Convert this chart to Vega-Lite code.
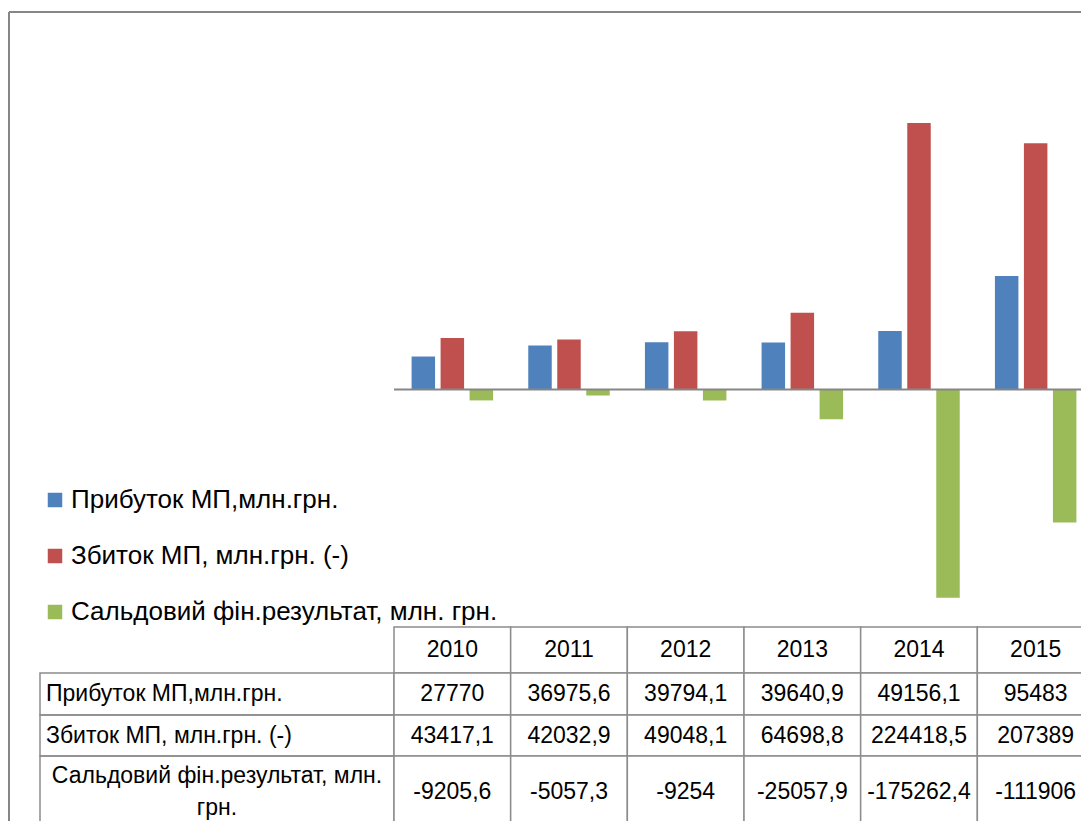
{
  "$schema": "https://vega.github.io/schema/vega-lite/v6.json",
  "padding": {"left": 8, "top": 11, "right": 0, "bottom": 0},
  "bounds": "flush",
  "spacing": 0,
  "columns": 3,
  "align": "each",
  "config": {
    "view": {"stroke": null},
    "font": "Liberation Sans",
    "locale": {"number": {"decimal": ",", "thousands": "", "grouping": [3], "currency": ["", ""], "minus": "-"}}
  },
  "datasets": {
    "fin": [
      {"year": 2010, "series": "Прибуток МП,млн.грн.", "value": 27770},
      {"year": 2011, "series": "Прибуток МП,млн.грн.", "value": 36975.6},
      {"year": 2012, "series": "Прибуток МП,млн.грн.", "value": 39794.1},
      {"year": 2013, "series": "Прибуток МП,млн.грн.", "value": 39640.9},
      {"year": 2014, "series": "Прибуток МП,млн.грн.", "value": 49156.1},
      {"year": 2015, "series": "Прибуток МП,млн.грн.", "value": 95483},
      {"year": 2010, "series": "Збиток МП, млн.грн. (-)", "value": 43417.1},
      {"year": 2011, "series": "Збиток МП, млн.грн. (-)", "value": 42032.9},
      {"year": 2012, "series": "Збиток МП, млн.грн. (-)", "value": 49048.1},
      {"year": 2013, "series": "Збиток МП, млн.грн. (-)", "value": 64698.8},
      {"year": 2014, "series": "Збиток МП, млн.грн. (-)", "value": 224418.5},
      {"year": 2015, "series": "Збиток МП, млн.грн. (-)", "value": 207389},
      {"year": 2010, "series": "Сальдовий фін.результат, млн. грн.", "value": -9205.6},
      {"year": 2011, "series": "Сальдовий фін.результат, млн. грн.", "value": -5057.3},
      {"year": 2012, "series": "Сальдовий фін.результат, млн. грн.", "value": -9254},
      {"year": 2013, "series": "Сальдовий фін.результат, млн. грн.", "value": -25057.9},
      {"year": 2014, "series": "Сальдовий фін.результат, млн. грн.", "value": -175262.4},
      {"year": 2015, "series": "Сальдовий фін.результат, млн. грн.", "value": -111906}
    ],
    "one": [{}]
  },
  "concat": [
    {
      "width": 31, "height": 615,
      "data": {"name": "one"},
      "layer": [
        {"mark": {"type": "rule", "color": "#868686", "strokeWidth": 2},
         "encoding": {"x": {"datum": 0, "type": "quantitative", "scale": {"domain": [0, 1]}, "axis": null}}},
        {"mark": {"type": "rule", "color": "#868686", "strokeWidth": 2},
         "encoding": {"y": {"datum": 1, "type": "quantitative", "scale": {"domain": [0, 1]}, "axis": null}}}
      ]
    },
    {
      "width": 354, "height": 615,
      "data": {"name": "one"},
      "mark": {"type": "rule", "color": "#868686", "strokeWidth": 2},
      "encoding": {"y": {"datum": 1, "type": "quantitative", "scale": {"domain": [0, 1]}, "axis": null}}
    },
    {
      "width": 700,
      "height": 615,
      "layer": [
        {
          "data": {"name": "fin"},
          "mark": {"type": "bar"},
          "encoding": {
            "x": {"field": "year", "type": "ordinal", "scale": {"paddingInner": 0, "paddingOuter": 0}, "axis": null},
            "xOffset": {"field": "series", "type": "nominal",
              "sort": ["Прибуток МП,млн.грн.", "Збиток МП, млн.грн. (-)", "Сальдовий фін.результат, млн. грн."],
              "scale": {"paddingInner": 0.19, "paddingOuter": 0.6065}},
            "y": {"field": "value", "type": "quantitative", "scale": {"domain": [-199975, 317855], "nice": false, "zero": false}, "axis": null},
            "color": {
              "field": "series", "type": "nominal",
              "scale": {
                "domain": ["Прибуток МП,млн.грн.", "Збиток МП, млн.грн. (-)", "Сальдовий фін.результат, млн. грн."],
                "range": ["#4F81BD", "#C0504D", "#9BBB59"]
              },
              "legend": {
                "title": null,
                "orient": "none",
                "legendX": 33,
                "legendY": 475,
                "symbolType": "square",
                "symbolSize": 210,
                "symbolStrokeWidth": 0,
                "symbolOpacity": 1,
                "labelFont": "Liberation Sans",
                "labelFontSize": 26,
                "labelColor": "#000000",
                "labelLimit": 700,
                "labelOffset": 3,
                "rowPadding": 30
              }
            }
          }
        },
        {
          "data": {"name": "one"},
          "mark": {"type": "rule", "color": "#868686", "strokeWidth": 2},
          "encoding": {"y": {"datum": 0, "type": "quantitative"}}
        },
        {
          "data": {"name": "one"},
          "mark": {"type": "rule", "color": "#868686", "strokeWidth": 2},
          "encoding": {"y": {"datum": 317855, "type": "quantitative"}}
        }
      ]
    },
    {
      "width": 31, "height": 46,
      "data": {"name": "one"},
      "mark": {"type": "rule", "color": "#868686", "strokeWidth": 2},
      "encoding": {"x": {"datum": 0, "type": "quantitative", "scale": {"domain": [0, 1]}, "axis": null}}
    },
    {
      "width": 354, "height": 46,
      "data": {"name": "one"},
      "mark": {"type": "text"},
      "encoding": {"text": {"value": ""}}
    },
    {
      "width": 700, "height": 46,
      "data": {"name": "fin"},
      "transform": [{"filter": "datum.series == 'Прибуток МП,млн.грн.'"}],
      "encoding": {
        "x": {"field": "year", "type": "ordinal", "scale": {"paddingInner": 0, "paddingOuter": 0}, "axis": null}
      },
      "layer": [
        {"mark": {"type": "rect", "fill": "#ffffff", "stroke": "#8c8c8c", "strokeWidth": 1.5}},
        {"mark": {"type": "text", "fontSize": 23, "font": "Liberation Sans", "color": "#000000", "baseline": "middle"},
         "encoding": {"text": {"field": "year", "type": "ordinal"}}}
      ]
    },
    {
      "width": 31, "height": 42,
      "data": {"name": "one"},
      "mark": {"type": "rule", "color": "#868686", "strokeWidth": 2},
      "encoding": {"x": {"datum": 0, "type": "quantitative", "scale": {"domain": [0, 1]}, "axis": null}}
    },
    {
      "width": 354, "height": 42,
      "view": {"stroke": "#8c8c8c", "strokeWidth": 1.5},
      "data": {"name": "fin"},
      "transform": [{"filter": "datum.year == 2010 && datum.series == 'Прибуток МП,млн.грн.'"}],
      "mark": {"type": "text", "fontSize": 23, "font": "Liberation Sans", "color": "#000000", "align": "left", "baseline": "middle", "dx": -171},
      "encoding": {"text": {"field": "series", "type": "nominal"}}
    },
    {
      "width": 700, "height": 42,
      "data": {"name": "fin"},
      "transform": [{"filter": "datum.series == 'Прибуток МП,млн.грн.'"}],
      "encoding": {
        "x": {"field": "year", "type": "ordinal", "scale": {"paddingInner": 0, "paddingOuter": 0}, "axis": null}
      },
      "layer": [
        {"mark": {"type": "rect", "fill": "#ffffff", "stroke": "#8c8c8c", "strokeWidth": 1.5}},
        {"mark": {"type": "text", "fontSize": 23, "font": "Liberation Sans", "color": "#000000", "baseline": "middle"},
         "encoding": {"text": {"field": "value", "type": "quantitative", "format": "~f"}}}
      ]
    },
    {
      "width": 31, "height": 41,
      "data": {"name": "one"},
      "mark": {"type": "rule", "color": "#868686", "strokeWidth": 2},
      "encoding": {"x": {"datum": 0, "type": "quantitative", "scale": {"domain": [0, 1]}, "axis": null}}
    },
    {
      "width": 354, "height": 41,
      "view": {"stroke": "#8c8c8c", "strokeWidth": 1.5},
      "data": {"name": "fin"},
      "transform": [{"filter": "datum.year == 2010 && datum.series == 'Збиток МП, млн.грн. (-)'"}],
      "mark": {"type": "text", "fontSize": 23, "font": "Liberation Sans", "color": "#000000", "align": "left", "baseline": "middle", "dx": -171},
      "encoding": {"text": {"field": "series", "type": "nominal"}}
    },
    {
      "width": 700, "height": 41,
      "data": {"name": "fin"},
      "transform": [{"filter": "datum.series == 'Збиток МП, млн.грн. (-)'"}],
      "encoding": {
        "x": {"field": "year", "type": "ordinal", "scale": {"paddingInner": 0, "paddingOuter": 0}, "axis": null}
      },
      "layer": [
        {"mark": {"type": "rect", "fill": "#ffffff", "stroke": "#8c8c8c", "strokeWidth": 1.5}},
        {"mark": {"type": "text", "fontSize": 23, "font": "Liberation Sans", "color": "#000000", "baseline": "middle"},
         "encoding": {"text": {"field": "value", "type": "quantitative", "format": "~f"}}}
      ]
    },
    {
      "width": 31, "height": 72,
      "data": {"name": "one"},
      "mark": {"type": "rule", "color": "#868686", "strokeWidth": 2},
      "encoding": {"x": {"datum": 0, "type": "quantitative", "scale": {"domain": [0, 1]}, "axis": null}}
    },
    {
      "width": 354, "height": 72,
      "view": {"stroke": "#8c8c8c", "strokeWidth": 1.5},
      "data": {"name": "fin"},
      "transform": [{"filter": "datum.year == 2010 && datum.series == 'Сальдовий фін.результат, млн. грн.'"}],
      "mark": {"type": "text", "fontSize": 23, "font": "Liberation Sans", "color": "#000000", "align": "center", "baseline": "middle", "lineHeight": 32, "dy": -16},
      "encoding": {"text": {"value": ["Сальдовий фін.результат, млн.", "грн."]}}
    },
    {
      "width": 700, "height": 72,
      "data": {"name": "fin"},
      "transform": [{"filter": "datum.series == 'Сальдовий фін.результат, млн. грн.'"}],
      "encoding": {
        "x": {"field": "year", "type": "ordinal", "scale": {"paddingInner": 0, "paddingOuter": 0}, "axis": null}
      },
      "layer": [
        {"mark": {"type": "rect", "fill": "#ffffff", "stroke": "#8c8c8c", "strokeWidth": 1.5}},
        {"mark": {"type": "text", "fontSize": 23, "font": "Liberation Sans", "color": "#000000", "baseline": "middle"},
         "encoding": {"text": {"field": "value", "type": "quantitative", "format": "~f"}}}
      ]
    }
  ]
}
